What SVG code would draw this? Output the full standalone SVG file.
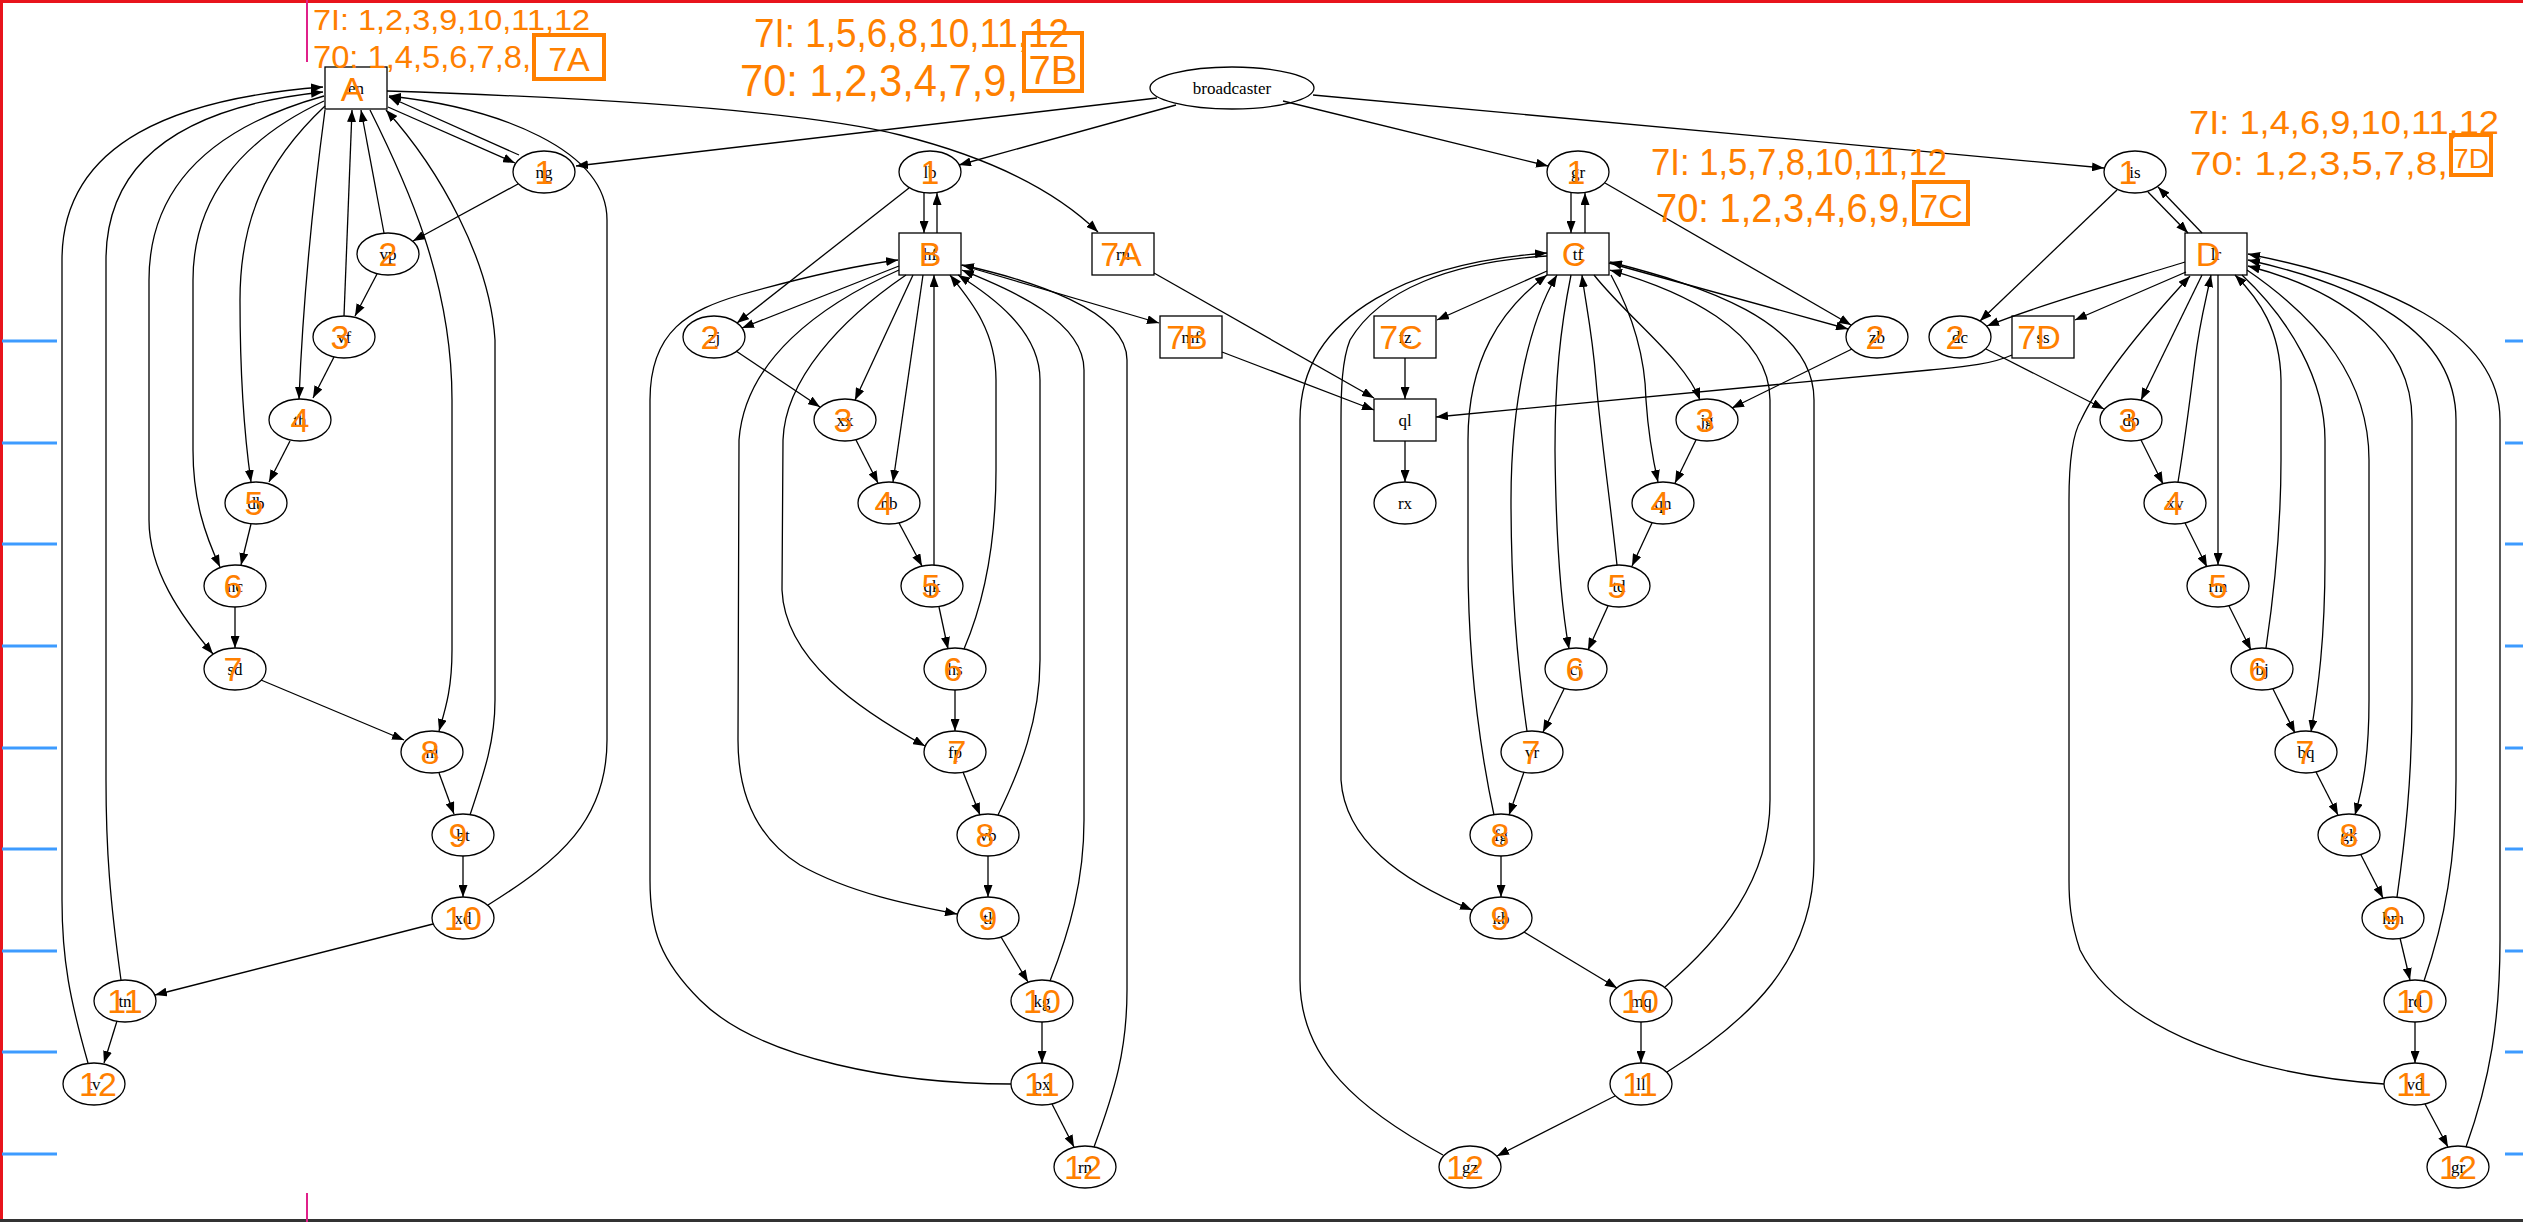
<svg xmlns="http://www.w3.org/2000/svg" width="2523" height="1222" viewBox="0 0 2523 1222">
<style>
.n ellipse,.n rect{fill:none;stroke:#000;stroke-width:1.3}
.n text{font-family:"Liberation Serif",serif;font-size:17px;fill:#000;text-anchor:middle}
#edges path{fill:none;stroke:#000;stroke-width:1.3;marker-end:url(#ah)}
.mk{font-family:"Liberation Sans",sans-serif;font-size:34px;fill:#ff8000;text-anchor:middle}
.an{font-family:"Liberation Sans",sans-serif;fill:#ff8000}
.bx{fill:none;stroke:#ff8000;stroke-width:4}
.tick{stroke:#3d9bff;stroke-width:3}
</style>
<defs>
<marker id="ah" markerWidth="12" markerHeight="9" refX="12" refY="4.5" orient="auto" markerUnits="userSpaceOnUse"><path d="M0,0 L12,4.5 L0,9 z" fill="#000"/></marker>
</defs>
<rect width="2523" height="1222" fill="#fff"/>
<g id="frame">
<line x1="0" y1="1.5" x2="2523" y2="1.5" stroke="#e8141c" stroke-width="3"/>
<line x1="1.5" y1="0" x2="1.5" y2="1222" stroke="#e8141c" stroke-width="3"/>
<line x1="0" y1="1220.5" x2="2523" y2="1220.5" stroke="#333" stroke-width="3"/>
<line x1="307" y1="0" x2="307" y2="62" stroke="#e0208a" stroke-width="2"/>
<line x1="307" y1="1193" x2="307" y2="1222" stroke="#e0208a" stroke-width="2"/>
<g class="tick">
<line x1="2" y1="341" x2="57" y2="341"/><line x1="2" y1="443" x2="57" y2="443"/><line x1="2" y1="544" x2="57" y2="544"/><line x1="2" y1="646" x2="57" y2="646"/><line x1="2" y1="748" x2="57" y2="748"/><line x1="2" y1="849" x2="57" y2="849"/><line x1="2" y1="951" x2="57" y2="951"/><line x1="2" y1="1052" x2="57" y2="1052"/><line x1="2" y1="1154" x2="57" y2="1154"/>
<line x1="2505" y1="341" x2="2523" y2="341"/><line x1="2505" y1="443" x2="2523" y2="443"/><line x1="2505" y1="544" x2="2523" y2="544"/><line x1="2505" y1="646" x2="2523" y2="646"/><line x1="2505" y1="748" x2="2523" y2="748"/><line x1="2505" y1="849" x2="2523" y2="849"/><line x1="2505" y1="951" x2="2523" y2="951"/><line x1="2505" y1="1052" x2="2523" y2="1052"/><line x1="2505" y1="1154" x2="2523" y2="1154"/>
</g>
</g>
<g id="edges">
<path d="M388,107 L515,163"/>
<path d="M519,155 L389,97"/>
<path d="M1157,98 L576,166"/>
<path d="M518,184 L413,241"/>
<path d="M384,233 L361,110"/>
<path d="M377,274 L355,316"/>
<path d="M344,316 L352,110"/>
<path d="M334,357 L313,398"/>
<path d="M325,110 C313,200 303,300 299,399"/>
<path d="M290,441 L269,482"/>
<path d="M325,106 C262,165 240,225 240,300 C240,380 245,440 251,482"/>
<path d="M251,524 L241,565"/>
<path d="M324,101 C240,140 193,200 193,280 L193,450 C193,500 205,535 220,567"/>
<path d="M235,607 L235,648"/>
<path d="M324,96 C220,125 149,180 149,280 L149,520 C149,570 180,615 213,654"/>
<path d="M261,680 L404,740"/>
<path d="M370,110 C405,180 452,280 452,400 L452,650 C452,690 445,710 439,731"/>
<path d="M439,773 L454,814"/>
<path d="M470,815 C485,770 495,740 495,700 L495,340 C490,260 440,170 386,110"/>
<path d="M463,856 L463,897"/>
<path d="M488,905 C560,860 607,820 607,740 L607,220 C607,150 500,108 389,96"/>
<path d="M433,924 L155,995"/>
<path d="M121,980 C110,900 106,850 106,780 L106,260 C106,150 200,105 323,92"/>
<path d="M117,1021 L104,1063"/>
<path d="M88,1063 C70,1000 62,960 62,900 L62,260 C62,140 180,98 323,87"/>
<path d="M387,91 C600,98 800,110 900,135 C1000,160 1060,195 1098,232"/>
<path d="M1176,105 L959,165"/>
<path d="M924,193 L924,233"/>
<path d="M937,233 L937,193"/>
<path d="M909,188 L737,323"/>
<path d="M899,266 L742,328"/>
<path d="M736,351 L820,407"/>
<path d="M913,275 L855,400"/>
<path d="M923,275 C915,330 905,400 893,482"/>
<path d="M856,440 L878,483"/>
<path d="M934,565 L934,275"/>
<path d="M899,523 L922,566"/>
<path d="M964,649 C985,600 996,540 996,470 L996,380 C996,330 970,300 950,275"/>
<path d="M939,607 L948,649"/>
<path d="M955,690 L955,731"/>
<path d="M998,815 C1020,770 1040,720 1040,660 L1040,380 C1040,330 990,295 958,275"/>
<path d="M963,772 L980,815"/>
<path d="M988,856 L988,897"/>
<path d="M899,270 C820,305 745,360 739,440 L738,740 C738,800 760,840 800,865 C850,893 910,905 957,914"/>
<path d="M906,275 C840,320 785,380 783,440 L782,590 C785,660 860,710 925,746"/>
<path d="M1001,937 L1028,982"/>
<path d="M1050,981 C1070,930 1084,880 1084,820 L1084,370 C1084,320 1010,290 962,270"/>
<path d="M1042,1022 L1042,1063"/>
<path d="M1011,1084 C900,1084 760,1060 700,1000 C660,960 650,930 650,880 L650,400 C650,330 690,310 740,295 C800,278 860,265 898,260"/>
<path d="M1052,1104 L1074,1147"/>
<path d="M1094,1147 C1115,1090 1127,1050 1127,990 L1127,360 C1127,310 1030,280 962,265"/>
<path d="M961,265 L1159,323"/>
<path d="M1154,273 L1374,398"/>
<path d="M1222,352 L1374,410"/>
<path d="M1283,101 L1548,166"/>
<path d="M1313,95 L2104,168"/>
<path d="M1571,193 L1571,233"/>
<path d="M1585,233 L1585,193"/>
<path d="M1605,183 L1851,325"/>
<path d="M1609,263 L1848,329"/>
<path d="M1547,271 L1437,320"/>
<path d="M1852,349 L1732,408"/>
<path d="M1594,275 C1630,320 1685,360 1700,400"/>
<path d="M1611,275 C1630,310 1645,350 1646,400 C1648,430 1653,460 1658,482"/>
<path d="M1696,440 L1675,483"/>
<path d="M1617,565 C1610,500 1600,430 1596,380 C1592,330 1585,300 1582,275"/>
<path d="M1652,523 L1632,566"/>
<path d="M1571,275 C1560,330 1555,380 1555,450 C1556,550 1562,610 1569,649"/>
<path d="M1608,606 L1588,650"/>
<path d="M1527,731 C1515,650 1511,580 1511,500 C1511,400 1530,320 1557,275"/>
<path d="M1564,689 L1543,732"/>
<path d="M1494,815 C1478,740 1468,660 1468,560 L1468,440 C1468,360 1500,310 1547,275"/>
<path d="M1524,772 L1509,815"/>
<path d="M1501,856 L1501,897"/>
<path d="M1547,256 C1450,262 1380,290 1350,340 C1342,360 1341,390 1341,420 L1341,780 C1345,840 1400,880 1472,910"/>
<path d="M1443,1155 C1360,1110 1300,1060 1300,980 L1300,420 C1300,310 1420,262 1547,253"/>
<path d="M1524,932 L1617,988"/>
<path d="M1665,987 C1720,940 1770,880 1770,800 L1770,400 C1770,330 1680,290 1610,270"/>
<path d="M1641,1022 L1641,1063"/>
<path d="M1667,1072 C1750,1020 1814,960 1814,860 L1814,400 C1814,320 1700,285 1610,262"/>
<path d="M1615,1096 L1497,1156"/>
<path d="M1405,358 L1405,399"/>
<path d="M1405,441 L1405,482"/>
<path d="M2012,355 C1990,365 1960,367 1930,370 L1436,417"/>
<path d="M2148,192 L2188,233"/>
<path d="M2202,233 L2158,187"/>
<path d="M2117,190 L1980,321"/>
<path d="M2185,262 C2110,285 2040,305 1987,326"/>
<path d="M2186,272 L2075,320"/>
<path d="M1986,349 L2104,409"/>
<path d="M2202,275 L2141,400"/>
<path d="M2141,440 L2163,484"/>
<path d="M2178,482 C2185,440 2190,400 2195,360 C2200,320 2206,300 2211,275"/>
<path d="M2218,275 L2218,565"/>
<path d="M2185,523 L2207,567"/>
<path d="M2229,606 L2251,650"/>
<path d="M2266,648 C2276,580 2281,520 2281,460 L2281,380 C2280,330 2260,300 2235,275"/>
<path d="M2273,689 L2295,733"/>
<path d="M2242,275 C2290,320 2325,380 2325,440 L2325,560 C2325,640 2318,690 2311,732"/>
<path d="M2316,772 L2338,815"/>
<path d="M2247,270 C2320,320 2369,380 2369,460 L2369,700 C2369,760 2362,790 2355,815"/>
<path d="M2361,855 L2383,898"/>
<path d="M2397,897 C2405,840 2412,780 2412,700 L2412,420 C2412,340 2340,290 2248,266"/>
<path d="M2400,938 L2410,980"/>
<path d="M2424,981 C2445,920 2456,860 2456,780 L2456,420 C2456,330 2360,285 2248,260"/>
<path d="M2415,1022 L2415,1063"/>
<path d="M2384,1084 C2250,1075 2120,1030 2080,950 C2070,920 2069,900 2069,880 L2069,500 C2069,450 2075,430 2081,420 C2100,380 2140,330 2190,276"/>
<path d="M2425,1104 L2448,1147"/>
<path d="M2466,1147 C2490,1080 2500,1020 2500,940 L2500,420 C2500,330 2380,280 2248,254"/>
</g>
<g id="nodes">
<g id="n-en" class="n"><rect x="325" y="67" width="62" height="42"/><text x="356" y="94">en</text></g>
<g id="n-ng" class="n"><ellipse cx="544" cy="172" rx="31" ry="21"/><text x="544" y="178">ng</text></g>
<g id="n-vp" class="n"><ellipse cx="388" cy="254" rx="31" ry="21"/><text x="388" y="260">vp</text></g>
<g id="n-vf" class="n"><ellipse cx="344" cy="337" rx="31" ry="21"/><text x="344" y="343">vf</text></g>
<g id="n-th" class="n"><ellipse cx="300" cy="420" rx="31" ry="21"/><text x="300" y="426">th</text></g>
<g id="n-db" class="n"><ellipse cx="256" cy="503" rx="31" ry="21"/><text x="256" y="509">db</text></g>
<g id="n-nc" class="n"><ellipse cx="235" cy="586" rx="31" ry="21"/><text x="235" y="592">nc</text></g>
<g id="n-sd" class="n"><ellipse cx="235" cy="669" rx="31" ry="21"/><text x="235" y="675">sd</text></g>
<g id="n-nl" class="n"><ellipse cx="432" cy="752" rx="31" ry="21"/><text x="432" y="758">nl</text></g>
<g id="n-bt" class="n"><ellipse cx="463" cy="835" rx="31" ry="21"/><text x="463" y="841">bt</text></g>
<g id="n-xd" class="n"><ellipse cx="463" cy="918" rx="31" ry="21"/><text x="463" y="924">xd</text></g>
<g id="n-tn" class="n"><ellipse cx="125" cy="1001" rx="31" ry="21"/><text x="125" y="1007">tn</text></g>
<g id="n-tv" class="n"><ellipse cx="94" cy="1084" rx="31" ry="21"/><text x="94" y="1090">tv</text></g>
<g id="n-broadcaster" class="n"><ellipse cx="1232" cy="88" rx="82" ry="21"/><text x="1232" y="94">broadcaster</text></g>
<g id="n-lb" class="n"><ellipse cx="930" cy="172" rx="31" ry="21"/><text x="930" y="178">lb</text></g>
<g id="n-hf" class="n"><rect x="899" y="233" width="62" height="42"/><text x="930" y="260">hf</text></g>
<g id="n-rn2" class="n"><rect x="1092" y="233" width="62" height="42"/><text x="1123" y="260">rn</text></g>
<g id="n-mf" class="n"><rect x="1160" y="316" width="62" height="42"/><text x="1191" y="343">mf</text></g>
<g id="n-zj" class="n"><ellipse cx="714" cy="337" rx="31" ry="21"/><text x="714" y="343">zj</text></g>
<g id="n-xx" class="n"><ellipse cx="845" cy="420" rx="31" ry="21"/><text x="845" y="426">xx</text></g>
<g id="n-nb" class="n"><ellipse cx="889" cy="503" rx="31" ry="21"/><text x="889" y="509">nb</text></g>
<g id="n-qk" class="n"><ellipse cx="932" cy="586" rx="31" ry="21"/><text x="932" y="592">qk</text></g>
<g id="n-hs" class="n"><ellipse cx="955" cy="669" rx="31" ry="21"/><text x="955" y="675">hs</text></g>
<g id="n-fp" class="n"><ellipse cx="955" cy="752" rx="31" ry="21"/><text x="955" y="758">fp</text></g>
<g id="n-vb" class="n"><ellipse cx="988" cy="835" rx="31" ry="21"/><text x="988" y="841">vb</text></g>
<g id="n-tl" class="n"><ellipse cx="988" cy="918" rx="31" ry="21"/><text x="988" y="924">tl</text></g>
<g id="n-kg" class="n"><ellipse cx="1042" cy="1001" rx="31" ry="21"/><text x="1042" y="1007">kg</text></g>
<g id="n-px" class="n"><ellipse cx="1042" cy="1084" rx="31" ry="21"/><text x="1042" y="1090">px</text></g>
<g id="n-rn" class="n"><ellipse cx="1085" cy="1167" rx="31" ry="21"/><text x="1085" y="1173">rn</text></g>
<g id="n-gr" class="n"><ellipse cx="1578" cy="172" rx="31" ry="21"/><text x="1578" y="178">gr</text></g>
<g id="n-tf" class="n"><rect x="1547" y="233" width="62" height="42"/><text x="1578" y="260">tf</text></g>
<g id="n-fz" class="n"><rect x="1374" y="316" width="62" height="42"/><text x="1405" y="343">fz</text></g>
<g id="n-ql" class="n"><rect x="1374" y="399" width="62" height="42"/><text x="1405" y="426">ql</text></g>
<g id="n-rx" class="n"><ellipse cx="1405" cy="503" rx="31" ry="21"/><text x="1405" y="509">rx</text></g>
<g id="n-zb" class="n"><ellipse cx="1877" cy="337" rx="31" ry="21"/><text x="1877" y="343">zb</text></g>
<g id="n-jg" class="n"><ellipse cx="1707" cy="420" rx="31" ry="21"/><text x="1707" y="426">jg</text></g>
<g id="n-qn" class="n"><ellipse cx="1663" cy="503" rx="31" ry="21"/><text x="1663" y="509">qn</text></g>
<g id="n-td" class="n"><ellipse cx="1619" cy="586" rx="31" ry="21"/><text x="1619" y="592">td</text></g>
<g id="n-cj" class="n"><ellipse cx="1576" cy="669" rx="31" ry="21"/><text x="1576" y="675">cj</text></g>
<g id="n-vr" class="n"><ellipse cx="1532" cy="752" rx="31" ry="21"/><text x="1532" y="758">vr</text></g>
<g id="n-fg" class="n"><ellipse cx="1501" cy="835" rx="31" ry="21"/><text x="1501" y="841">fg</text></g>
<g id="n-kb" class="n"><ellipse cx="1501" cy="918" rx="31" ry="21"/><text x="1501" y="924">kb</text></g>
<g id="n-mq" class="n"><ellipse cx="1641" cy="1001" rx="31" ry="21"/><text x="1641" y="1007">mq</text></g>
<g id="n-ll" class="n"><ellipse cx="1641" cy="1084" rx="31" ry="21"/><text x="1641" y="1090">ll</text></g>
<g id="n-gz" class="n"><ellipse cx="1470" cy="1167" rx="31" ry="21"/><text x="1470" y="1173">gz</text></g>
<g id="n-is" class="n"><ellipse cx="2135" cy="172" rx="31" ry="21"/><text x="2135" y="178">is</text></g>
<g id="n-lr" class="n"><rect x="2185" y="233" width="62" height="42"/><text x="2216" y="260">lr</text></g>
<g id="n-dc" class="n"><ellipse cx="1960" cy="337" rx="31" ry="21"/><text x="1960" y="343">dc</text></g>
<g id="n-ss" class="n"><rect x="2012" y="316" width="62" height="42"/><text x="2043" y="343">ss</text></g>
<g id="n-dp" class="n"><ellipse cx="2131" cy="420" rx="31" ry="21"/><text x="2131" y="426">dp</text></g>
<g id="n-xv" class="n"><ellipse cx="2175" cy="503" rx="31" ry="21"/><text x="2175" y="509">xv</text></g>
<g id="n-rm" class="n"><ellipse cx="2218" cy="586" rx="31" ry="21"/><text x="2218" y="592">rm</text></g>
<g id="n-bj" class="n"><ellipse cx="2262" cy="669" rx="31" ry="21"/><text x="2262" y="675">bj</text></g>
<g id="n-bq" class="n"><ellipse cx="2306" cy="752" rx="31" ry="21"/><text x="2306" y="758">bq</text></g>
<g id="n-gk" class="n"><ellipse cx="2349" cy="835" rx="31" ry="21"/><text x="2349" y="841">gk</text></g>
<g id="n-hm" class="n"><ellipse cx="2393" cy="918" rx="31" ry="21"/><text x="2393" y="924">hm</text></g>
<g id="n-rd" class="n"><ellipse cx="2415" cy="1001" rx="31" ry="21"/><text x="2415" y="1007">rd</text></g>
<g id="n-vd" class="n"><ellipse cx="2415" cy="1084" rx="31" ry="21"/><text x="2415" y="1090">vd</text></g>
<g id="n-gr2" class="n"><ellipse cx="2458" cy="1167" rx="31" ry="21"/><text x="2458" y="1173">gr</text></g>
</g>
<g id="marks" class="mk">
<text x="352" y="101">A</text><text x="544" y="184">1</text><text x="388" y="266">2</text><text x="340" y="349">3</text><text x="300" y="432">4</text><text x="254" y="515">5</text><text x="233" y="598">6</text><text x="233" y="681">7</text><text x="430" y="764">8</text><text x="458" y="847">9</text><text x="463" y="930">10</text><text x="125" y="1013">11</text><text x="98" y="1096">12</text>
<text x="930" y="266">B</text><text x="1121" y="266">7A</text><text x="1187" y="349">7B</text><text x="930" y="184">1</text><text x="710" y="349">2</text><text x="843" y="432">3</text><text x="884" y="515">4</text><text x="931" y="598">5</text><text x="953" y="681">6</text><text x="957" y="764">7</text><text x="985" y="847">8</text><text x="988" y="930">9</text><text x="1042" y="1013">10</text><text x="1042" y="1096">11</text><text x="1083" y="1179">12</text>
<text x="1574" y="266">C</text><text x="1401" y="349">7C</text><text x="1576" y="184">1</text><text x="1875" y="349">2</text><text x="1705" y="432">3</text><text x="1660" y="515">4</text><text x="1617" y="598">5</text><text x="1575" y="681">6</text><text x="1531" y="764">7</text><text x="1500" y="847">8</text><text x="1500" y="930">9</text><text x="1640" y="1013">10</text><text x="1640" y="1096">11</text><text x="1465" y="1179">12</text>
<text x="2208" y="266">D</text><text x="2039" y="349">7D</text><text x="2128" y="184">1</text><text x="1955" y="349">2</text><text x="2128" y="432">3</text><text x="2173" y="515">4</text><text x="2218" y="598">5</text><text x="2258" y="681">6</text><text x="2305" y="764">7</text><text x="2349" y="847">8</text><text x="2392" y="930">9</text><text x="2415" y="1013">10</text><text x="2414" y="1096">11</text><text x="2458" y="1179">12</text>
</g>
<g id="annotations" class="an">
<text x="313" y="30" font-size="30" textLength="277" lengthAdjust="spacingAndGlyphs">7I: 1,2,3,9,10,11,12</text>
<text x="313" y="68" font-size="32" textLength="218" lengthAdjust="spacingAndGlyphs">70: 1,4,5,6,7,8,</text>
<rect class="bx" x="534" y="35" width="70" height="44"/>
<text x="569" y="71" font-size="34" text-anchor="middle">7A</text>
<text x="754" y="47" font-size="40" textLength="315" lengthAdjust="spacingAndGlyphs">7I: 1,5,6,8,10,11,12</text>
<text x="740" y="96" font-size="44" textLength="278" lengthAdjust="spacingAndGlyphs">70: 1,2,3,4,7,9,</text>
<rect class="bx" x="1024" y="33" width="58" height="58"/>
<text x="1053" y="84" font-size="40" text-anchor="middle">7B</text>
<text x="1651" y="175" font-size="36" textLength="296" lengthAdjust="spacingAndGlyphs">7I: 1,5,7,8,10,11,12</text>
<text x="1656" y="222" font-size="40" textLength="254" lengthAdjust="spacingAndGlyphs">70: 1,2,3,4,6,9,</text>
<rect class="bx" x="1914" y="182" width="54" height="42"/>
<text x="1941" y="218" font-size="34" text-anchor="middle">7C</text>
<text x="2189" y="134" font-size="34" textLength="310" lengthAdjust="spacingAndGlyphs">7I: 1,4,6,9,10,11,12</text>
<text x="2190" y="175" font-size="34" textLength="258" lengthAdjust="spacingAndGlyphs">70: 1,2,3,5,7,8,</text>
<rect class="bx" x="2451" y="135" width="40" height="40"/>
<text x="2471" y="168" font-size="28" text-anchor="middle">7D</text>
</g>
</svg>
